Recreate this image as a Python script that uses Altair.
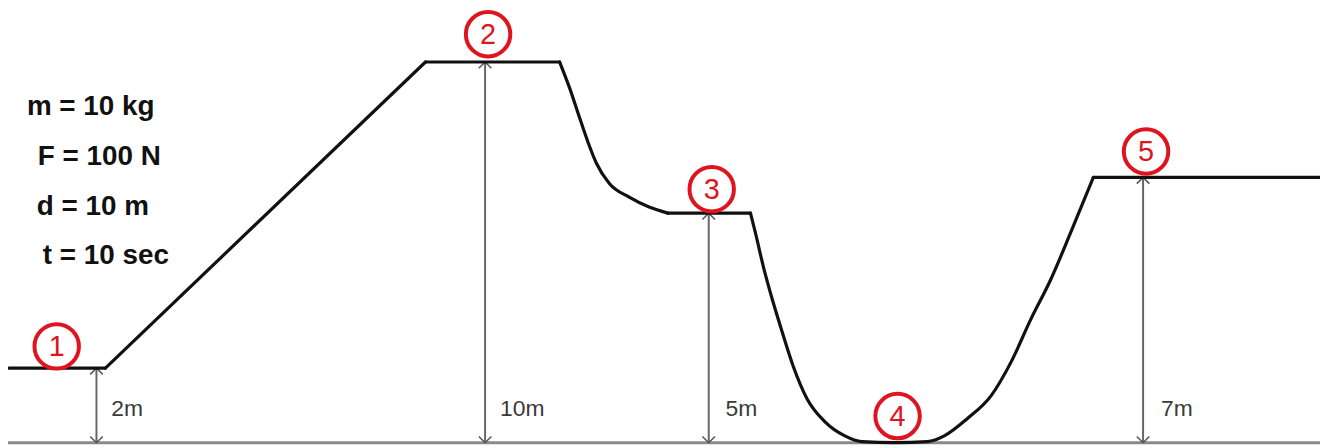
import altair as alt
import pandas as pd

# Track profile, split into pieces: horizontal position (drawing px) and drawn height (m)
seg_x = [
    [9, 106],
    [106, 428],
    [428, 563],
    [563, 573, 583, 592, 600, 613, 633, 653, 672],
    [672, 755],
    [755, 760, 768, 777, 787, 798, 812, 830, 850, 867, 900, 933, 950, 973, 997,
     1017, 1037, 1057, 1077, 1100],
    [1100, 1328],
]
seg_h = [
    [1.96, 1.96],
    [1.96, 10.0],
    [10.0, 10.0],
    [10.0, 9.32, 8.54, 7.86, 7.34, 6.81, 6.45, 6.19, 6.03],
    [6.03, 6.03],
    [6.03, 5.51, 4.62, 3.76, 2.90, 2.01, 1.15, 0.55, 0.18, 0.03, 0.0, 0.03, 0.18,
     0.63, 1.23, 2.11, 3.24, 4.28, 5.51, 6.97],
    [6.97, 6.97],
]

# Height dimension arrows
arrow_x = [97, 488, 713, 1150]
arrow_top = [1.96, 10.0, 6.03, 6.97]
arrow_label = ["2m", "10m", "5m", "7m"]
arrow_label_x = [112, 503, 730, 1168]
arrow_label_h = [0.70, 0.70, 0.70, 0.70]

# Numbered positions
point_num = ["1", "2", "3", "4", "5"]
point_x = [57, 491, 716, 903, 1153]
point_h = [2.53, 10.73, 6.66, 0.70, 7.65]

# Given values
given_text = ["m = 10 kg", "F = 100 N", "d = 10 m", "t = 10 sec"]
given_x = [27, 38, 37, 43]
given_h = [8.60, 7.30, 5.99, 4.70]

ground_x = [8, 1328]

W, H = 1320, 440
xs = alt.Scale(domain=[8, 1328], nice=False, zero=False)
ys = alt.Scale(domain=[-0.1044, 11.384], nice=False, zero=False)
X = lambda f: alt.X(f, scale=xs, axis=None)
Y = lambda f: alt.Y(f, scale=ys, axis=None)

rows = []
for s, (xx, hh) in enumerate(zip(seg_x, seg_h)):
    for i, (a, b) in enumerate(zip(xx, hh)):
        rows.append({"seg": s, "o": i, "x": a, "h": b})
track = pd.DataFrame(rows)
arrows = pd.DataFrame({"x": arrow_x, "top": arrow_top, "bot": [0.0] * 4,
                       "lab": arrow_label, "lx": arrow_label_x, "lh": arrow_label_h})
pts = pd.DataFrame({"n": point_num, "x": point_x, "h": point_h})
given = pd.DataFrame({"t": given_text, "x": given_x, "h": given_h})
ground = pd.DataFrame({"x": [ground_x[0]], "x2": [ground_x[1]], "h": [0.0]})

ground_l = alt.Chart(ground).mark_rule(color="#8a8a8a", strokeWidth=3).encode(
    x=X("x:Q"), x2="x2:Q", y=Y("h:Q"))

shafts = alt.Chart(arrows).mark_rule(color="#666666", strokeWidth=2).encode(
    x=X("x:Q"), y=Y("top:Q"), y2="bot:Q")

heads_up = alt.Chart(arrows).mark_point(
    shape="M -1 1 L 0 0 L 1 1", filled=False, color="#555555", strokeWidth=1.5,
    size=160, opacity=1).encode(x=X("x:Q"), y=Y("top:Q"))
heads_dn = alt.Chart(arrows).mark_point(
    shape="M -1 -1 L 0 0 L 1 -1", filled=False, color="#555555", strokeWidth=1.5,
    size=160, opacity=1).encode(x=X("x:Q"), y=Y("bot:Q"))

labels = alt.Chart(arrows).mark_text(
    align="left", baseline="alphabetic", font="Liberation Sans", fontSize=23,
    color="#3a3a3a").encode(x=X("lx:Q"), y=Y("lh:Q"), text="lab:N")

track_l = alt.Chart(track).mark_line(color="#111111", strokeWidth=3.2,
                                     interpolate="monotone", strokeCap="round").encode(
    x=X("x:Q"), y=Y("h:Q"), detail="seg:N", order="o:Q")

circles = alt.Chart(pts).mark_point(
    shape="circle", filled=True, fill="white", stroke="#e0141e", strokeWidth=4,
    size=2000, opacity=1).encode(x=X("x:Q"), y=Y("h:Q"))

nums = alt.Chart(pts).mark_text(
    align="center", baseline="middle", font="Liberation Sans", fontSize=29,
    color="#e0141e", dy=1).encode(x=X("x:Q"), y=Y("h:Q"), text="n:N")

given_t = alt.Chart(given).mark_text(
    align="left", baseline="alphabetic", font="Liberation Sans", fontSize=28,
    fontWeight="bold", color="#111111").encode(x=X("x:Q"), y=Y("h:Q"), text="t:N")

chart = alt.layer(ground_l, shafts, heads_up, heads_dn, labels, track_l,
                  circles, nums, given_t).properties(
    width=W, height=H, padding=0, autosize=alt.AutoSizeParams(type="none"),
    background="white"
).configure_view(stroke=None)

chart.save("out.html", embed_options={"renderer": "svg", "actions": False})
